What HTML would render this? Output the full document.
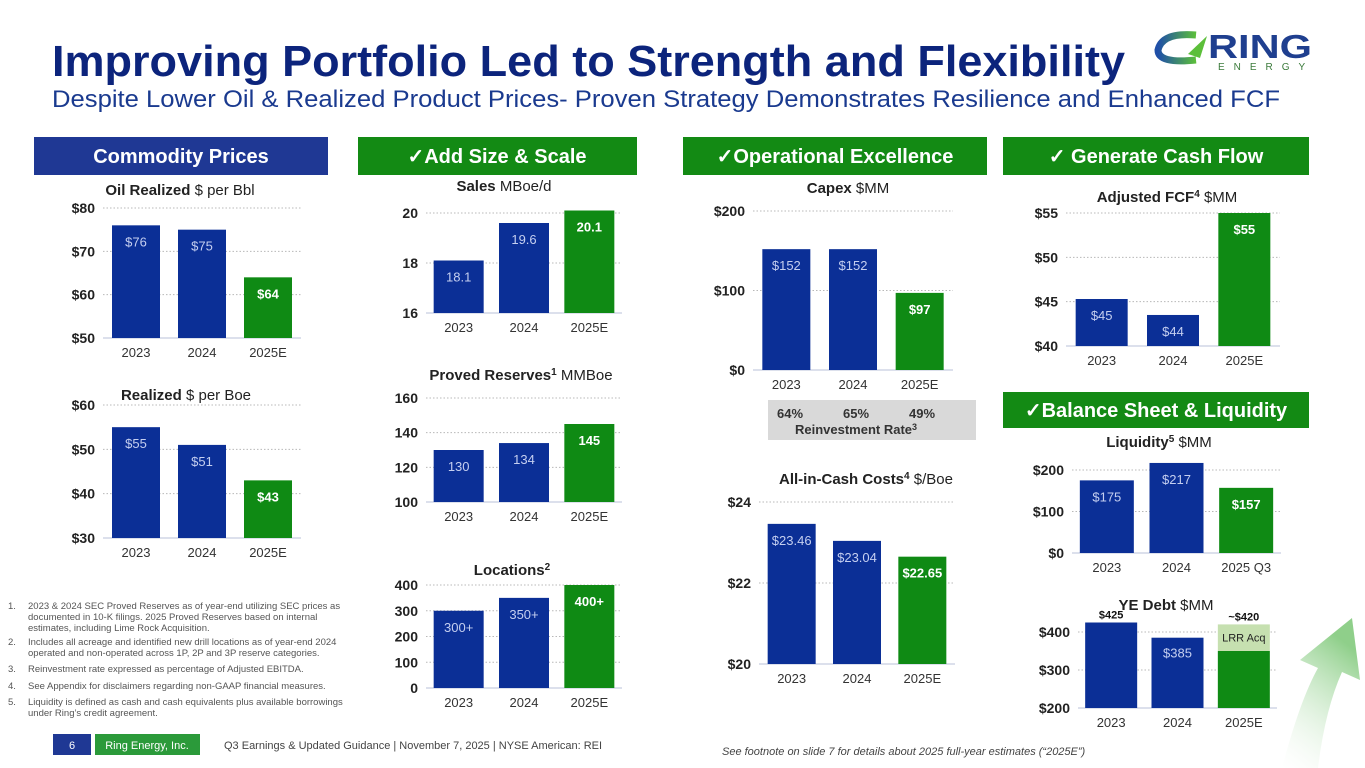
<!DOCTYPE html>
<html><head><meta charset="utf-8">
<style>
html,body{margin:0;padding:0;background:#fff;}
svg{display:block;font-family:"Liberation Sans",sans-serif;}
</style></head>
<body>
<svg id="slide" width="1365" height="768" viewBox="0 0 1365 768">
  <defs>
    <linearGradient id="arrowGrad" x1="0" y1="1" x2="0.4" y2="0">
      <stop offset="0" stop-color="#ffffff" stop-opacity="0.2"/>
      <stop offset="1" stop-color="#8fcf8a"/>
    </linearGradient>
    <linearGradient id="ringGrad" x1="0" y1="0" x2="1" y2="0">
      <stop offset="0" stop-color="#1f4fa8"/>
      <stop offset="1" stop-color="#5cbf3a"/>
    </linearGradient>
  </defs>
  <path d="M1282 768 Q1300 700 1318 668 L1300 660 L1352 618 L1360 680 L1342 672 Q1325 710 1318 768 Z" fill="url(#arrowGrad)"/>

  <text x="52" y="76" font-size="44" font-weight="bold" fill="#0c247c" textLength="1073" lengthAdjust="spacingAndGlyphs">Improving Portfolio Led to Strength and Flexibility</text>
  <text x="52" y="107" font-size="24" fill="#1a3a8f" textLength="1228" lengthAdjust="spacingAndGlyphs">Despite Lower Oil &amp; Realized Product Prices- Proven Strategy Demonstrates Resilience and Enhanced FCF</text>

  <g>
    <path d="M1196 35 Q1162 32 1158 50 Q1158 64 1196 60" fill="none" stroke="url(#ringGrad)" stroke-width="7"/>
    <polygon points="1188,54 1207,36 1200,58" fill="#5cbf3a"/>
    <text x="1208" y="58" font-size="33" font-weight="bold" fill="#1f3f8f" textLength="104" lengthAdjust="spacingAndGlyphs">RING</text>
    <text x="1218" y="70" font-size="10" fill="#3a7a3a" letter-spacing="9">ENERGY</text>
  </g>

  <g>
    <rect x="34" y="137" width="294" height="38" fill="#1f3894"/>
    <text x="181" y="163" text-anchor="middle" font-size="20" font-weight="bold" fill="#fff">Commodity Prices</text>
  </g>
  <g>
    <rect x="358" y="137" width="279" height="38" fill="#138a14"/>
    <text x="497" y="163" text-anchor="middle" font-size="20" font-weight="bold" fill="#fff">✓Add Size &amp; Scale</text>
  </g>
  <g>
    <rect x="683" y="137" width="304" height="38" fill="#138a14"/>
    <text x="835" y="163" text-anchor="middle" font-size="20" font-weight="bold" fill="#fff">✓Operational Excellence</text>
  </g>
  <g>
    <rect x="1003" y="137" width="306" height="38" fill="#138a14"/>
    <text x="1156" y="163" text-anchor="middle" font-size="20" font-weight="bold" fill="#fff">✓ Generate Cash Flow</text>
  </g>
  <g>
    <rect x="1003" y="392" width="306" height="36" fill="#138a14"/>
    <text x="1156" y="417" text-anchor="middle" font-size="20" font-weight="bold" fill="#fff">✓Balance Sheet &amp; Liquidity</text>
  </g>

  <text x="180" y="195" text-anchor="middle" font-size="15" fill="#222"><tspan font-weight="bold">Oil Realized</tspan> $ per Bbl</text>
  <text x="186" y="400" text-anchor="middle" font-size="15" fill="#222"><tspan font-weight="bold">Realized</tspan> $ per Boe</text>
  <text x="504" y="191" text-anchor="middle" font-size="15" fill="#222"><tspan font-weight="bold">Sales</tspan> MBoe/d</text>
  <text x="521" y="380" text-anchor="middle" font-size="15" fill="#222"><tspan font-weight="bold">Proved Reserves<tspan font-size="10" dy="-5">1</tspan></tspan><tspan dy="5"> MMBoe</tspan></text>
  <text x="512" y="575" text-anchor="middle" font-size="15" font-weight="bold" fill="#222">Locations<tspan font-size="10" dy="-5">2</tspan></text>
  <text x="848" y="193" text-anchor="middle" font-size="15" fill="#222"><tspan font-weight="bold">Capex</tspan> $MM</text>
  <text x="866" y="484" text-anchor="middle" font-size="15" fill="#222"><tspan font-weight="bold">All-in-Cash Costs<tspan font-size="10" dy="-5">4</tspan></tspan><tspan dy="5"> $/Boe</tspan></text>
  <text x="1167" y="202" text-anchor="middle" font-size="15" fill="#222"><tspan font-weight="bold">Adjusted FCF<tspan font-size="10" dy="-5">4</tspan></tspan><tspan dy="5"> $MM</tspan></text>
  <text x="1159" y="447" text-anchor="middle" font-size="15" fill="#222"><tspan font-weight="bold">Liquidity<tspan font-size="10" dy="-5">5</tspan></tspan><tspan dy="5"> $MM</tspan></text>
  <text x="1166" y="610" text-anchor="middle" font-size="15" fill="#222"><tspan font-weight="bold">YE Debt</tspan> $MM</text>

  <g>
    <rect x="768" y="400" width="208" height="40" fill="#d9d9d9"/>
    <text x="790" y="418" text-anchor="middle" font-size="13" font-weight="bold" fill="#333">64%</text>
    <text x="856" y="418" text-anchor="middle" font-size="13" font-weight="bold" fill="#333">65%</text>
    <text x="922" y="418" text-anchor="middle" font-size="13" font-weight="bold" fill="#333">49%</text>
    <text x="856" y="434" text-anchor="middle" font-size="13" font-weight="bold" fill="#333">Reinvestment Rate<tspan font-size="9" dy="-4">3</tspan></text>
  </g>

  <g id="charts"></g>

  <g font-size="9.5" fill="#555">
    <text x="8" y="609">1.</text><text x="28" y="609">2023 &amp; 2024 SEC Proved Reserves as of year-end utilizing SEC prices as</text>
    <text x="28" y="620">documented in 10-K filings.  2025 Proved Reserves based on internal</text>
    <text x="28" y="631">estimates, including Lime Rock Acquisition.</text>
    <text x="8" y="645">2.</text><text x="28" y="645">Includes all acreage and identified new drill locations as of year-end 2024</text>
    <text x="28" y="656">operated and non-operated across 1P, 2P and 3P reserve categories.</text>
    <text x="8" y="672">3.</text><text x="28" y="672">Reinvestment rate expressed as percentage of Adjusted EBITDA.</text>
    <text x="8" y="689">4.</text><text x="28" y="689">See Appendix for disclaimers regarding non-GAAP financial measures.</text>
    <text x="8" y="705">5.</text><text x="28" y="705">Liquidity is defined as cash and cash equivalents plus available borrowings</text>
    <text x="28" y="716">under Ring’s credit agreement.</text>
  </g>

  <g>
    <rect x="53" y="734" width="38" height="21" fill="#1f3894"/>
    <text x="72" y="749" text-anchor="middle" font-size="11" fill="#fff">6</text>
    <rect x="95" y="734" width="105" height="21" fill="#2b9a3a"/>
    <text x="147" y="749" text-anchor="middle" font-size="11" fill="#fff">Ring Energy, Inc.</text>
    <text x="224" y="749" font-size="11" fill="#444">Q3 Earnings &amp; Updated Guidance | November 7, 2025 | NYSE American: REI</text>
    <text x="722" y="755" font-size="11" font-style="italic" fill="#444">See footnote on slide 7 for details about 2025 full-year estimates (“2025E”)</text>
  </g>
</svg>
<script>
const years = ["2023", "2024", "2025E"];
const liquidityYears = ["2023", "2024", "2025 Q3"];
const oilValues = [76, 75, 64];
const oilLabels = ["$76", "$75", "$64"];
const oilTicks = [50, 60, 70, 80];
const realizedValues = [55, 51, 43];
const realizedLabels = ["$55", "$51", "$43"];
const realizedTicks = [30, 40, 50, 60];
const salesValues = [18.1, 19.6, 20.1];
const salesLabels = ["18.1", "19.6", "20.1"];
const salesTicks = [16, 18, 20];
const reservesValues = [130, 134, 145];
const reservesLabels = ["130", "134", "145"];
const reservesTicks = [100, 120, 140, 160];
const locationsValues = [300, 350, 400];
const locationsLabels = ["300+", "350+", "400+"];
const locationsTicks = [0, 100, 200, 300, 400];
const capexValues = [152, 152, 97];
const capexLabels = ["$152", "$152", "$97"];
const capexTicks = [0, 100, 200];
const cashCostValues = [23.46, 23.04, 22.65];
const cashCostLabels = ["$23.46", "$23.04", "$22.65"];
const cashCostTicks = [20, 22, 24];
const fcfValues = [45.3, 43.5, 55];
const fcfLabels = ["$45", "$44", "$55"];
const fcfTicks = [40, 45, 50, 55];
const liquidityValues = [175, 217, 157];
const liquidityLabels = ["$175", "$217", "$157"];
const liquidityTicks = [0, 100, 200];
const debtBaseValues = [425, 385, 350];
const debtAcqValues = [0, 0, 70];
const debtLabels = ["$425", "$385", "~$420"];
const debtTicks = [200, 300, 400];

const NS = "http://www.w3.org/2000/svg";
const root = document.getElementById("charts");
const BLUE = "#0b2f96", GREEN = "#0f8a14";

function mk(tag, attrs, parent, text) {
  const e = document.createElementNS(NS, tag);
  for (const k in attrs) e.setAttribute(k, attrs[k]);
  if (text !== undefined) e.textContent = text;
  parent.appendChild(e);
  return e;
}

function drawChart(name, cats, values, labels, ticks, fmt, geo) {
  const g = mk("g", {}, root);
  
  
  const vMin = ticks[0], vMax = ticks[ticks.length - 1];
  const y = v => geo.yb + (v - vMin) / (vMax - vMin) * (geo.yt - geo.yb);
  const step = (geo.R - geo.L) / cats.length;
  const cx = i => geo.L + step * (i + 0.5);
  ticks.forEach((t, i) => {
    const line = mk("line", {x1: geo.L, x2: geo.R, y1: y(t), y2: y(t),
      stroke: i === 0 ? "#d0d6e6" : "#b8b8b8", "stroke-width": i === 0 ? 1.5 : 1,
      "stroke-dasharray": i === 0 ? "" : "1.5,2"}, g);
    
    
    const tl = mk("text", {x: geo.L - 8, y: y(t) + 5, "text-anchor": "end", "font-size": 14,
      "font-weight": "bold", fill: "#222"}, g, fmt(t));
    
    
  });
  values.forEach((v, i) => {
    const last = i === values.length - 1;
    const top = y(v);
    const bar = mk("rect", {x: cx(i) - geo.w / 2, y: top, width: geo.w, height: y(vMin) - top,
      fill: last ? GREEN : BLUE}, g);
    
    
    const vl = mk("text", {x: cx(i), y: top + 21, "text-anchor": "middle", "font-size": 13,
      "font-weight": last ? "bold" : "normal", fill: last ? "#fff" : "#c5cff0"}, g, labels[i]);
    
    
    const xl = mk("text", {x: cx(i), y: y(vMin) + 19, "text-anchor": "middle", "font-size": 13,
      fill: "#333"}, g, cats[i]);
    
    
  });
  return {y, cx, g};
}

const dollar = v => "$" + v;
const plain = v => String(v);

drawChart("oil", years, oilValues, oilLabels, oilTicks, dollar, {L: 103, R: 301, yt: 208, yb: 338, w: 48});
drawChart("realized", years, realizedValues, realizedLabels, realizedTicks, dollar, {L: 103, R: 301, yt: 405, yb: 538, w: 48});
drawChart("sales", years, salesValues, salesLabels, salesTicks, plain, {L: 426, R: 622, yt: 213, yb: 313, w: 50});
drawChart("reserves", years, reservesValues, reservesLabels, reservesTicks, plain, {L: 426, R: 622, yt: 398, yb: 502, w: 50});
drawChart("locations", years, locationsValues, locationsLabels, locationsTicks, plain, {L: 426, R: 622, yt: 585, yb: 688, w: 50});
drawChart("capex", years, capexValues, capexLabels, capexTicks, dollar, {L: 753, R: 953, yt: 211, yb: 370, w: 48});
drawChart("cash-costs", years, cashCostValues, cashCostLabels, cashCostTicks, dollar, {L: 759, R: 955, yt: 502, yb: 664, w: 48});
drawChart("fcf", years, fcfValues, fcfLabels, fcfTicks, dollar, {L: 1066, R: 1280, yt: 213, yb: 346, w: 52});
drawChart("liquidity", liquidityYears, liquidityValues, liquidityLabels, liquidityTicks, dollar, {L: 1072, R: 1281, yt: 470, yb: 553, w: 54});

(function () {
  const geo = {L: 1078, R: 1277, yt: 632, yb: 708, w: 52};
  const g = mk("g", {}, root);
  
  
  const vMin = debtTicks[0], vMax = debtTicks[debtTicks.length - 1];
  const y = v => geo.yb + (v - vMin) / (vMax - vMin) * (geo.yt - geo.yb);
  const step = (geo.R - geo.L) / years.length;
  const cx = i => geo.L + step * (i + 0.5);
  debtTicks.forEach((t, i) => {
    const line = mk("line", {x1: geo.L, x2: geo.R, y1: y(t), y2: y(t),
      stroke: i === 0 ? "#d0d6e6" : "#b8b8b8", "stroke-width": i === 0 ? 1.5 : 1,
      "stroke-dasharray": i === 0 ? "" : "1.5,2"}, g);
    
    
    const tl = mk("text", {x: geo.L - 8, y: y(t) + 5, "text-anchor": "end", "font-size": 14,
      "font-weight": "bold", fill: "#222"}, g, "$" + t);
    
    
  });
  debtBaseValues.forEach((v, i) => {
    const last = i === debtBaseValues.length - 1;
    const top = y(v);
    const bar = mk("rect", {x: cx(i) - geo.w / 2, y: top, width: geo.w, height: y(vMin) - top,
      fill: last ? GREEN : BLUE}, g);
    
    
    const acq = debtAcqValues[i];
    const total = v + acq;
    if (acq > 0) {
      const ab = mk("rect", {x: cx(i) - geo.w / 2, y: y(total), width: geo.w, height: top - y(total),
        fill: "#c6e0b0"}, g);
      
      
      const al = mk("text", {x: cx(i), y: (top + y(total)) / 2 + 4, "text-anchor": "middle",
        "font-size": 11, fill: "#222"}, g, "LRR Acq");
      
      
    }
    const outside = i === 0 || acq > 0;
    const vl = mk("text", {x: cx(i), y: outside ? y(total) - 4 : top + 20, "text-anchor": "middle",
      "font-size": outside ? 11 : 13, "font-weight": outside ? "bold" : "normal",
      fill: outside ? "#111" : "#c5cff0"}, g, debtLabels[i]);
    
    
    const xl = mk("text", {x: cx(i), y: y(vMin) + 19, "text-anchor": "middle", "font-size": 13,
      fill: "#333"}, g, years[i]);
    
    
  });
})();
</script>
</body></html>
